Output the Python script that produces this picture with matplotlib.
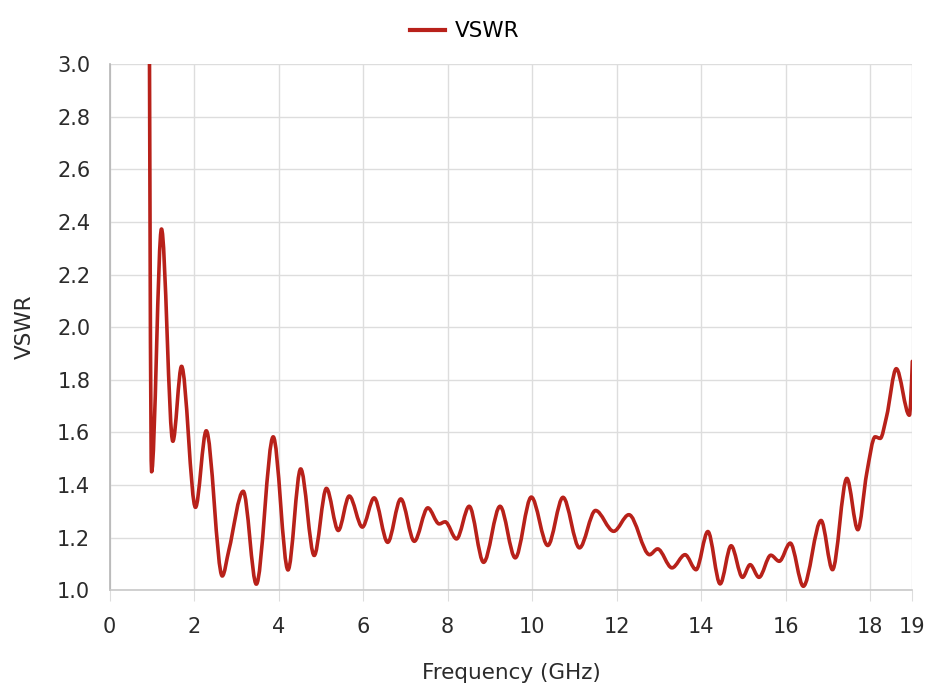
import numpy as np
import matplotlib
matplotlib.use("Agg")
import matplotlib.pyplot as plt
from matplotlib.path import Path
from matplotlib.patches import PathPatch
from matplotlib.lines import Line2D

freq_ghz = [0.92, 0.99, 1.225, 1.494, 1.70, 2.03, 2.285, 2.664, 2.82, 3.16, 3.47,
            3.87, 4.22, 4.52, 4.84, 5.13, 5.41, 5.67, 5.98, 6.26, 6.58, 6.89,
            7.21, 7.53, 7.80, 7.94, 8.21, 8.51, 8.85, 9.24, 9.60, 9.98, 10.37,
            10.73, 11.12, 11.50, 11.93, 12.29, 12.78, 12.97, 13.31, 13.62, 13.88,
            14.16, 14.45, 14.71, 14.98, 15.16, 15.37, 15.65, 15.85, 16.11, 16.42,
            16.84, 17.11, 17.45, 17.71, 17.92, 18.12, 18.24, 18.39, 18.62, 18.93, 19.0]
vswr = [4.2, 1.45, 2.373, 1.566, 1.851, 1.315, 1.606, 1.054, 1.152, 1.376, 1.023,
        1.583, 1.077, 1.461, 1.132, 1.387, 1.227, 1.358, 1.240, 1.351, 1.182, 1.347,
        1.186, 1.313, 1.252, 1.26, 1.195, 1.319, 1.106, 1.319, 1.123, 1.354, 1.170,
        1.353, 1.161, 1.303, 1.224, 1.287, 1.135, 1.157, 1.085, 1.135, 1.078,
        1.223, 1.024, 1.169, 1.049, 1.097, 1.049, 1.133, 1.11, 1.179, 1.015,
        1.265, 1.078, 1.425, 1.23, 1.444, 1.583, 1.577, 1.66, 1.842, 1.665, 1.87]

x_ticks = [0, 2, 4, 6, 8, 10, 12, 14, 16, 18, 19]
y_ticks = [1.0, 1.2, 1.4, 1.6, 1.8, 2.0, 2.2, 2.4, 2.6, 2.8, 3.0]

LINE_COLOR = "#B8211A"
TEXT_COLOR = "#2b2b2b"
plt.rcParams["font.family"] = ["DejaVu Sans"]

fig = plt.figure(figsize=(9.3, 6.96), dpi=100)
ax = fig.add_axes([0.118, 0.152, 0.863, 0.756])
ax.set_xlim(0, 19)
ax.set_ylim(1.0, 3.0)


def monotone_x_path(xs, ys):
    """Monotone cubic (like d3.curveMonotoneX) expressed as a Bezier path."""
    xs = np.asarray(xs, float)
    ys = np.asarray(ys, float)
    n = len(xs)
    h = np.diff(xs)
    s = np.diff(ys) / h
    t = np.zeros(n)
    for i in range(1, n - 1):
        if s[i - 1] * s[i] <= 0:
            t[i] = 0.0
        else:
            p = (s[i - 1] * h[i] + s[i] * h[i - 1]) / (h[i - 1] + h[i])
            t[i] = (np.sign(s[i - 1]) + np.sign(s[i])) * min(abs(s[i - 1]), abs(s[i]), 0.5 * abs(p))
    t[0] = (3 * s[0] - t[1]) / 2 if n > 2 else s[0]
    t[-1] = (3 * s[-1] - t[-2]) / 2 if n > 2 else s[-1]
    verts = [(xs[0], ys[0])]
    codes = [Path.MOVETO]
    for i in range(n - 1):
        dx = h[i] / 3.0
        verts += [(xs[i] + dx, ys[i] + dx * t[i]),
                  (xs[i + 1] - dx, ys[i + 1] - dx * t[i + 1]),
                  (xs[i + 1], ys[i + 1])]
        codes += [Path.CURVE4] * 3
    return Path(verts, codes)


patch = PathPatch(monotone_x_path(freq_ghz, vswr), facecolor="none",
                  edgecolor=LINE_COLOR, lw=2.6, transform=ax.transData,
                  capstyle="round", joinstyle="round", zorder=3)
patch.set_clip_path(ax.patch)
ax.add_patch(patch)

ax.set_xticks(x_ticks)
ax.set_yticks(y_ticks)
ax.set_yticklabels([f"{v:.1f}" for v in y_ticks])
ax.grid(True, color="#dddddd", lw=1.0, zorder=0)
ax.set_axisbelow(True)
for s in ["top", "right"]:
    ax.spines[s].set_visible(False)
ax.spines["left"].set_color("#b5b5b5")
ax.spines["bottom"].set_color("#c8c8c8")
ax.spines["left"].set_linewidth(1.2)
ax.spines["bottom"].set_linewidth(1.2)
ax.tick_params(axis="x", length=8, color="#dddddd", labelsize=15, pad=11, labelcolor=TEXT_COLOR)
ax.tick_params(axis="y", length=0, labelsize=15, pad=14, labelcolor=TEXT_COLOR)
ax.set_xlabel("Frequency (GHz)", fontsize=15.5, labelpad=19, color=TEXT_COLOR)
ax.set_ylabel("VSWR", fontsize=15.5, labelpad=16, color=TEXT_COLOR)

handle = Line2D([], [], color=LINE_COLOR, lw=3)
fig.legend([handle], ["VSWR"], loc="center", bbox_to_anchor=(0.5, 0.955),
           frameon=False, fontsize=15.5, handlelength=1.6, handletextpad=0.5)

fig.savefig("out.png", dpi=100)
